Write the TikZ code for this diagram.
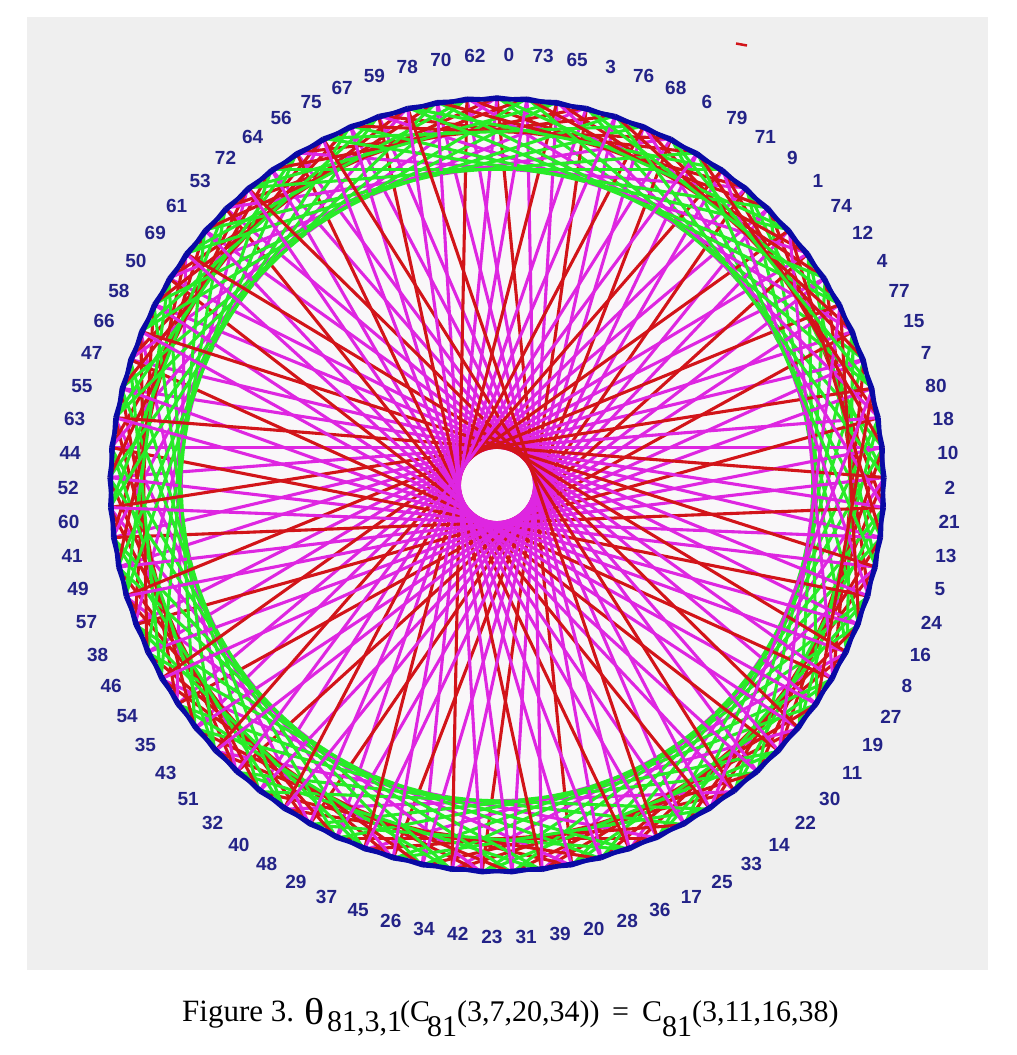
\documentclass[tikz,border=0pt]{standalone}
\usepackage{fontspec}
\setmainfont{Liberation Serif}
\newfontfamily\lblfont{Liberation Sans}
\usepackage{graphicx}
\definecolor{bggray}{RGB}{239,239,239}
\definecolor{discwhite}{RGB}{249,247,249}
\definecolor{rimblue}{RGB}{10,10,165}
\definecolor{chordgreen}{RGB}{40,235,40}
\definecolor{chordred}{RGB}{210,20,25}
\definecolor{chordmag}{RGB}{222,38,225}
\definecolor{lblblue}{RGB}{35,35,135}
\begin{document}
\begin{tikzpicture}[x=1pt,y=-1pt,
  lbl/.style={font=\lblfont\bfseries\fontsize{19}{19}\selectfont, text=lblblue, inner sep=0pt},
  chord/.style={line width=3.1pt},
  capt/.style={font=\fontsize{30}{30}\selectfont, anchor=base west, inner sep=0pt}]
  \useasboundingbox (0,0) rectangle (1017,1055);
  \fill[bggray] (27,17) rectangle (988,970);
  \fill[discwhite] (497,485) circle (388);

  % vertices by label, labels around
  \foreach \p in {0,...,80}{
    \pgfmathtruncatemacro\l{mod(\p-9*mod(\p,3)+81,81)}
    \pgfmathsetmacro\ang{90-\p*(360/81)}
    \coordinate (v\l) at ({497+388*cos(\ang)},{485-388*sin(\ang)});
    \node[lbl] (l\l) at ({509+441*cos(\ang)},{496-441*sin(\ang)}) {\l};
  }

  % chords 7, 20, 34
  \foreach \l in {0,...,80}{
    \pgfmathtruncatemacro\jg{mod(\l+7,81)}
    \pgfmathtruncatemacro\jr{mod(\l+20,81)}
    \pgfmathtruncatemacro\jm{mod(\l+34,81)}
    \draw[chord, chordgreen] (v\l) -- (v\jg);
    \draw[chord, chordred] (v\l) -- (v\jr);
    \draw[chord, chordmag] (v\l) -- (v\jm);
  }
  % chords 3
  \foreach \l in {0,...,80}{
    \pgfmathtruncatemacro\jb{mod(\l+3,81)}
    \draw[chord, rimblue, line width=3.4pt] (v\l) -- (v\jb);
  }

  \draw[chordred, line width=2.5pt] (736,43.5) -- (747,45.5);

  % caption
  \node[capt, font=\fontsize{31}{31}\selectfont] (fig) at (182,1021) {Figure 3.};
  \node[capt] (theta) at (304,1024) {\scalebox{1.4}[1.25]{θ}};
  \node[capt] (sub1) at (327,1031) {81,3,1};
  \node[capt] (cpar) at (400,1021) {(C};
  \node[capt] (sub2) at (427,1036) {81};
  \node[capt] (args1) at (457,1021) {(3,7,20,34))};
  \node[capt] (eq) at (612,1021) {=};
  \node[capt] (c2) at (642,1021) {C};
  \node[capt] (sub3) at (662,1036) {81};
  \node[capt] (args2) at (692,1021) {(3,11,16,38)};
\end{tikzpicture}
\end{document}
